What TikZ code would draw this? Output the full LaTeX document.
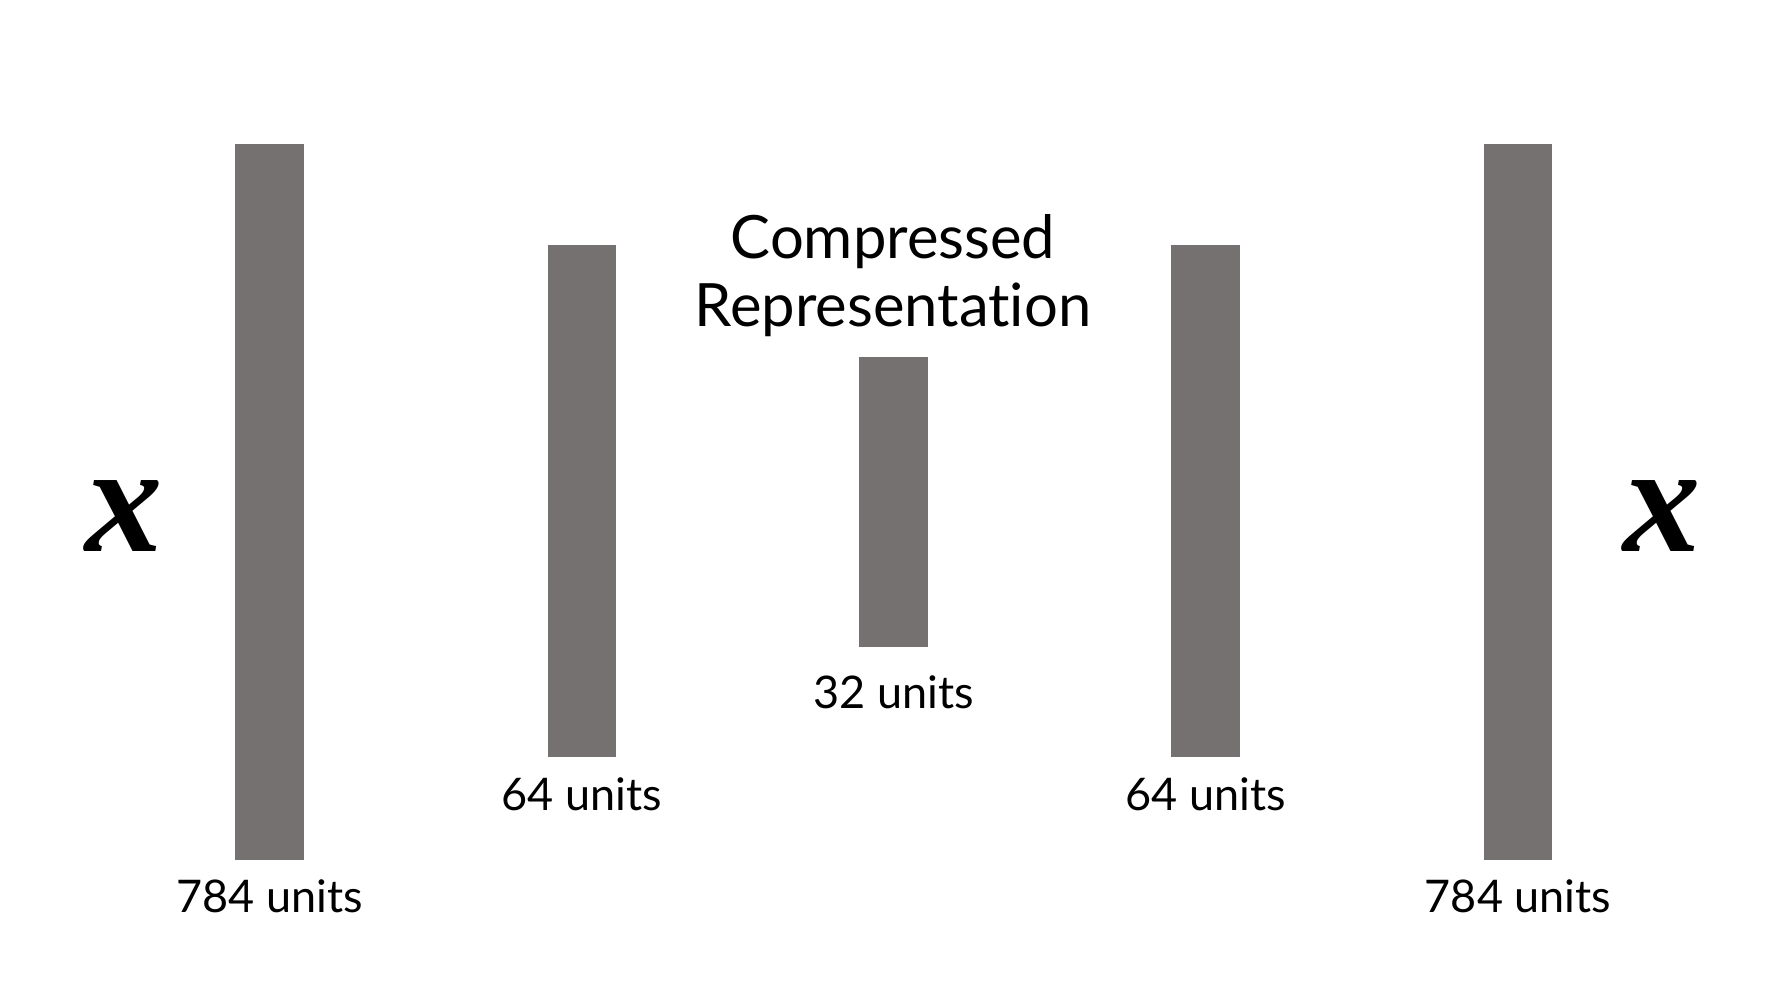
\documentclass[tikz,border=0pt]{standalone}
\usepackage{fontspec}
\setmainfont{Lato}[Ligatures=NoCommon]
\newfontfamily\varfont{Liberation Serif}
\usetikzlibrary{positioning}
\definecolor{barcol}{RGB}{117,113,112}
\tikzset{
  layerbar/.style={draw=none,fill=barcol,minimum width=6.85mm,inner sep=0pt},
  unitlbl/.style={anchor=base,font=\fontsize{12.8}{15}\selectfont,inner sep=0pt},
  titlelbl/.style={anchor=base,font=\fontsize{17}{20}\selectfont,inner sep=0pt},
  inlbl/.style={font=\varfont\bfseries\itshape\fontsize{44}{44}\selectfont,inner sep=0pt,anchor=base},
}
\begin{document}
\begin{tikzpicture}[x=1cm,y=1cm]
  \useasboundingbox (0,0) rectangle (17.78,10);
  % layers
  \node[layerbar,minimum height=71.6mm] (l1) at (2.695,4.98) {};
  \node[layerbar,minimum height=51.2mm] (l2) at (5.82,4.99) {};
  \node[layerbar,minimum height=29.0mm] (l3) at (8.935,4.98) {};
  \node[layerbar,minimum height=51.2mm] (l4) at (12.055,4.99) {};
  \node[layerbar,minimum height=71.6mm] (l5) at (15.18,4.98) {};
  % unit counts
  \node[unitlbl] (u1) at ([yshift=-5.2mm]l1.south) {784 units};
  \node[unitlbl] (u2) at ([yshift=-5.3mm]l2.south) {64 units};
  \node[unitlbl] (u3) at ([yshift=-6.1mm]l3.south) {32 units};
  \node[unitlbl] (u4) at ([yshift=-5.3mm]l4.south) {64 units};
  \node[unitlbl] (u5) at ([yshift=-5.2mm]l5.south) {784 units};
  % code layer title
  \node[titlelbl] (t1) at (8.93,7.41) {Compressed};
  \node[titlelbl] (t2) at (8.93,6.73) {Representation};
  % input and output
  \node[inlbl] (xin) at (1.245,4.48) {x};
  \node[inlbl] (xout) at (16.62,4.48) {x};
\end{tikzpicture}
\end{document}
